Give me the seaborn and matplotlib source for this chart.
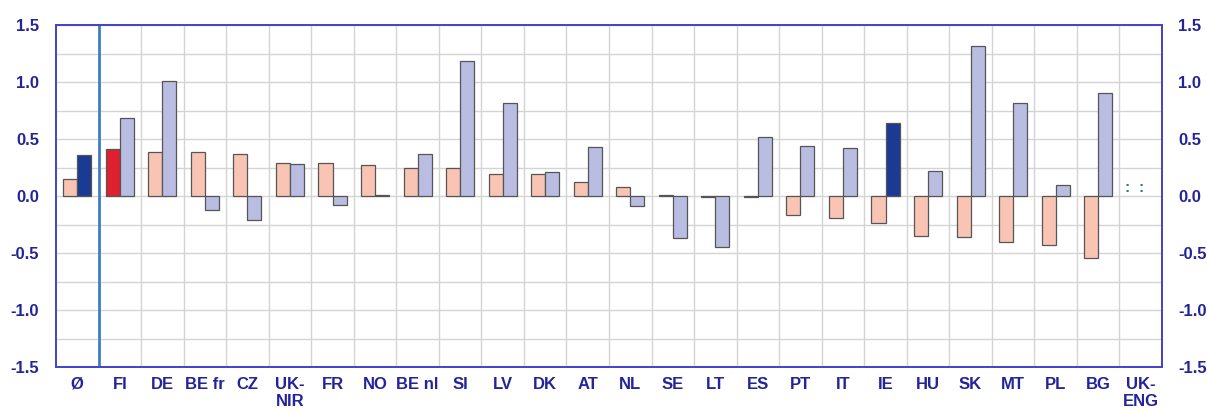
import numpy as np
import pandas as pd
import matplotlib
matplotlib.use("Agg")
import matplotlib.pyplot as plt
import seaborn as sns

# Data
countries = ["Ø", "FI", "DE", "BE fr", "CZ", "UK-\nNIR", "FR", "NO", "BE nl", "SI",
             "LV", "DK", "AT", "NL", "SE", "LT", "ES", "PT", "IT", "IE",
             "HU", "SK", "MT", "PL", "BG", "UK-\nENG"]
series_a = [0.15, 0.41, 0.39, 0.39, 0.37, 0.29, 0.29, 0.27, 0.25, 0.25,
            0.19, 0.19, 0.12, 0.08, 0.005, -0.005, -0.01, -0.17, -0.19, -0.24,
            -0.35, -0.36, -0.40, -0.43, -0.54, np.nan]
series_b = [0.36, 0.68, 1.01, -0.12, -0.21, 0.28, -0.08, 0.01, 0.37, 1.18,
            0.82, 0.21, 0.43, -0.09, -0.37, -0.45, 0.52, 0.44, 0.42, 0.64,
            0.22, 1.32, 0.82, 0.10, 0.90, np.nan]
series_names = ["A", "B"]
yticks = [-1.5, -1.0, -0.5, 0.0, 0.5, 1.0, 1.5]

# highlighted bars: (country, series) -> colour
highlights = {("Ø", "B"): "#1b3a94", ("FI", "A"): "#e0202e", ("IE", "B"): "#1b3a94"}

pink = "#f9c4b4"
lavender = "#b9bde2"
text_col = "#23239a"
spine_col = "#4545c8"

df = pd.DataFrame({
    "country": countries * 2,
    "series": ["A"] * len(countries) + ["B"] * len(countries),
    "value": series_a + series_b,
})

sns.set_style("white")
plt.rcParams["font.family"] = ["Liberation Sans", "DejaVu Sans"]

fig = plt.figure(figsize=(12.07, 4.12), dpi=100)
ax = fig.add_axes([56 / 1207, 1 - 367 / 412, 1106 / 1207, 342 / 412])

sns.barplot(data=df, x="country", y="value", hue="series", hue_order=series_names,
            order=countries, palette=[pink, lavender], width=0.66, saturation=1,
            edgecolor="#555555", linewidth=0.9, legend=False, ax=ax)

# recolour highlighted bars
for name, cont in zip(series_names, ax.containers):
    for bar in cont:
        h = bar.get_height()
        if np.isnan(h):
            continue
        idx = int(round(bar.get_x() + bar.get_width() / 2))
        key = (countries[idx], name)
        if key in highlights:
            bar.set_facecolor(highlights[key])

# missing data markers
for i, (a, b) in enumerate(zip(series_a, series_b)):
    if np.isnan(a) and np.isnan(b):
        for off in (-0.33, 0.0):
            ax.text(i + off, 0.07, ":", ha="center", va="center",
                    fontsize=11, fontweight="bold", color="#2a7a9a")

ax.set_xlim(-0.5, len(countries) - 0.5)
ax.set_ylim(-1.5, 1.5)
ax.set_yticks(yticks)
ax.set_yticks(np.arange(-1.25, 1.5, 0.5), minor=True)
ax.set_yticklabels([f"{t:.1f}" for t in yticks])
ax.set_xticks(np.arange(0.5, len(countries) - 1, 1.0), minor=True)
ax.grid(True, which="both", axis="y", color="#d4d4d4", linewidth=1.0)
ax.grid(True, which="minor", axis="x", color="#d4d4d4", linewidth=1.0)
ax.set_axisbelow(True)
ax.axvline(0.5, color="#3f7fc0", linewidth=2.0, zorder=5)

ax.set_xlabel("")
ax.set_ylabel("")
ax.tick_params(axis="both", which="both", length=0)
ax.tick_params(axis="y", pad=12, labelsize=12, labelcolor=text_col)
ax.tick_params(axis="x", pad=7, labelsize=12, labelcolor=text_col)
for lab in ax.get_xticklabels() + ax.get_yticklabels():
    lab.set_fontweight("bold")
    lab.set_linespacing(1.15)
for sp in ax.spines.values():
    sp.set_color(spine_col)
    sp.set_linewidth(1.3)

ax2 = ax.twinx()
ax2.set_ylim(-1.5, 1.5)
ax2.set_yticks(yticks)
ax2.set_yticklabels([f"{t:.1f}" for t in yticks])
ax2.tick_params(axis="y", length=0, pad=11.5, labelsize=12, labelcolor=text_col)
for lab in ax2.get_yticklabels():
    lab.set_fontweight("bold")
for sp in ax2.spines.values():
    sp.set_color(spine_col)
    sp.set_linewidth(1.3)

fig.savefig("out.png", dpi=100)
